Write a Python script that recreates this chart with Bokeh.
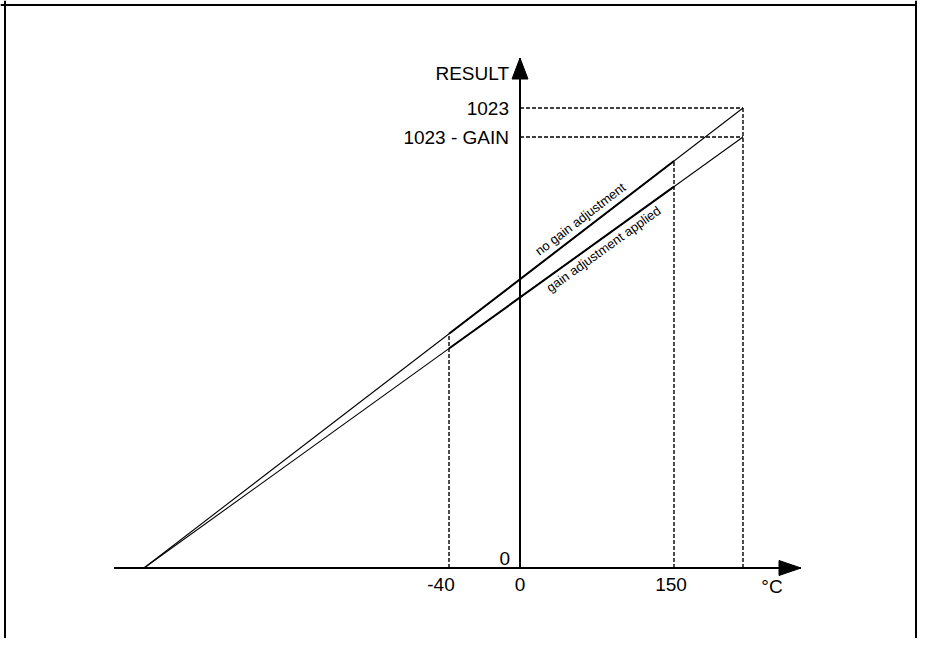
import math
from bokeh.plotting import figure
from bokeh.models import Range1d, Span
from bokeh.core.properties import value
from bokeh.embed import file_html
from bokeh.resources import INLINE

# ---- diagram data (schematic units, origin at the axes crossing) ----
temp_labels = ["-40", "0", "150"]
temp_pos = [-71, 0, 154]            # where the temperature marks sit on the °C axis
temp_label_pos = [-79, 0, 151]      # label centres
t_max_pos = 223                     # temperature giving full-scale result
t_zero_pos = -376                   # temperature giving result 0
result_labels = ["1023", "1023 - GAIN"]
result_levels = [460, 431]          # full scale without / with gain adjustment
line_names = ["no gain adjustment", "gain adjustment applied"]
x_axis_span = [-406, 281]
y_axis_span = [0, 510]

FONT = value("Liberation Sans")

p = figure(width=917, height=638, x_range=Range1d(-519.5, 397.5), y_range=Range1d(-70.5, 567.5),
           output_backend="svg", toolbar_location=None, min_border=0,
           x_axis_type=None, y_axis_type=None)
p.grid.visible = False
p.outline_line_color = None
p.background_fill_color = "white"
p.border_fill_color = "white"

# frame (no bottom edge visible)
p.add_layout(Span(location=-515, dimension="height", line_color="black", line_width=2))
p.add_layout(Span(location=563, dimension="width", line_color="black", line_width=2))
p.add_layout(Span(location=396, dimension="height", line_color="black", line_width=2))

def result_at(x, full):
    return full * (x - t_zero_pos) / (t_max_pos - t_zero_pos)

# dashed guides
dash_w = 1.4
for lvl in result_levels:
    p.line([0, t_max_pos], [lvl, lvl], line_color="black", line_width=dash_w, line_dash="4 2")
p.line([t_max_pos, t_max_pos], [0, result_levels[0]], line_color="black", line_width=dash_w,
       line_dash="4 2")
for tp in (temp_pos[0], temp_pos[2]):
    p.line([tp, tp], [0, result_at(tp, result_levels[0])], line_color="black",
           line_width=dash_w, line_dash="4 2")

# transfer lines (thin full, thick in operating range)
lo, hi = temp_pos[0], temp_pos[2]
for full in result_levels:
    p.line([t_zero_pos, t_max_pos], [0, full], line_color="black", line_width=1.1)
    p.line([lo, hi], [result_at(lo, full), result_at(hi, full)], line_color="black", line_width=2)

# axes
p.line(x_axis_span, [0, 0], line_color="black", line_width=2)
p.line([0, 0], y_axis_span, line_color="black", line_width=2)
hx = x_axis_span[1]
p.patch([hx, hx - 22, hx - 22], [0, 7.5, -7.5], fill_color="black", line_color="black")
hy = y_axis_span[1]
p.patch([0, -8, 8], [hy, hy - 21, hy - 21], fill_color="black", line_color="black")

# texts
big = "19px"
p.text(x=[-11], y=[495], text=["RESULT"], text_font=FONT, text_font_size=big,
       text_align="right", text_baseline="middle", text_color="black")
p.text(x=[-11, -11], y=[lvl - 0.5 for lvl in result_levels], text=result_labels, text_font=FONT,
       text_font_size=big, text_align="right", text_baseline="middle", text_color="black")
p.text(x=[-10], y=[9.5], text=["0"], text_font=FONT, text_font_size=big,
       text_align="right", text_baseline="middle", text_color="black")
p.text(x=temp_label_pos, y=[-16.5] * 3, text=temp_labels, text_font=FONT, text_font_size=big,
       text_align="center", text_baseline="middle", text_color="black")
p.text(x=[252], y=[-18], text=["°C"], text_font=FONT, text_font_size=big,
       text_align="center", text_baseline="middle", text_color="black")

a1 = math.atan2(result_levels[0], t_max_pos - t_zero_pos)
a2 = math.atan2(result_levels[1], t_max_pos - t_zero_pos)
x1, x2 = 67, 78
d1, d2 = 3.5, 2
p.text(x=[x1], y=[result_at(x1, result_levels[0])], text=[line_names[0]], angle=a1,
       text_font=FONT, text_font_size="13px", text_align="center", text_baseline="bottom",
       x_offset=-d1 * math.sin(a1), y_offset=-d1 * math.cos(a1), text_color="black")
p.text(x=[x2], y=[result_at(x2, result_levels[1])], text=[line_names[1]], angle=a2,
       text_font=FONT, text_font_size="13px", text_align="center", text_baseline="top",
       x_offset=d2 * math.sin(a2), y_offset=d2 * math.cos(a2), text_color="black")

open("out.html", "w").write(file_html(p, INLINE))
